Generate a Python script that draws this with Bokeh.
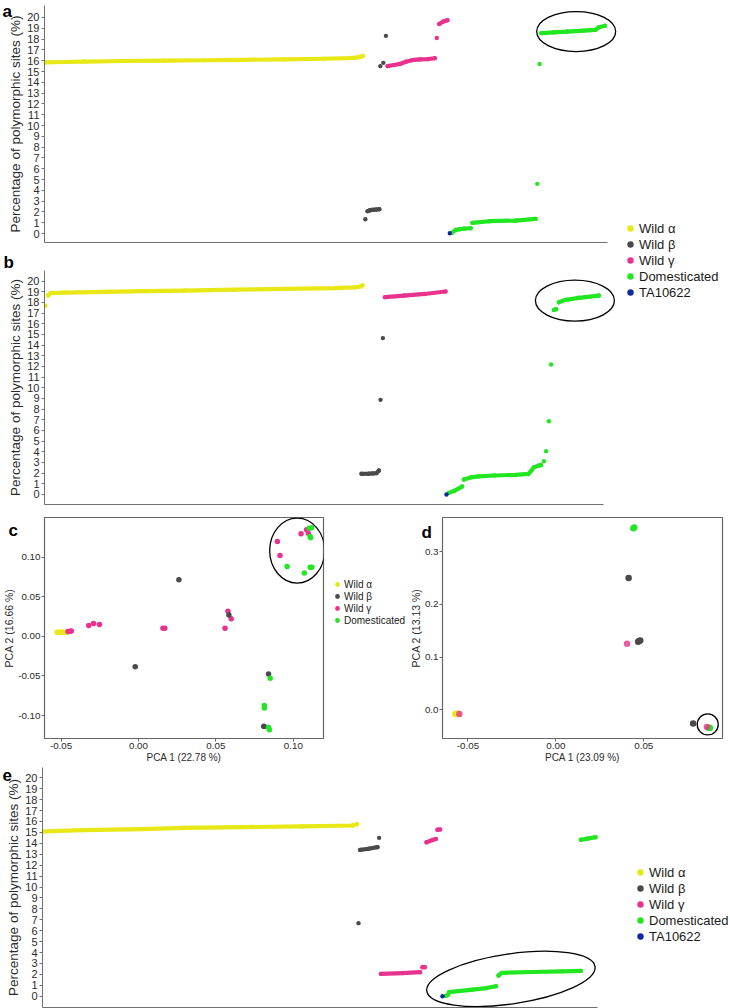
import numpy as np
from bokeh.plotting import figure
from bokeh.layouts import column, row
from bokeh.models import FixedTicker, Legend, LegendItem, NumeralTickFormatter, Range1d
from bokeh.core.properties import value
from bokeh.embed import file_html
from bokeh.resources import INLINE

nan = float("nan")
FONT = "Liberation Sans"
TXT = "#2b2b2b"
AXC = "#707070"

GROUPS = ["Wild α", "Wild β", "Wild γ", "Domesticated", "TA10622"]
COLORS = ["#E8E817", "#4A4A4A", "#E8338E", "#22E622", "#0B2A9E"]

RANK_TICKS = [0, 1, 2, 3, 4, 5, 6, 7, 8, 9, 10, 11, 12, 13, 14, 15, 16, 17, 18, 19, 20]
RANK_YLABEL = "Percentage of polymorphic sites (%)"

# ---------------- panel a (sample rank, % polymorphic sites) ----------------
A_ALPHA_X = [0.5, 10, 20, 40, 60, 80, 100, 120, 140, 152, 156, 158, 159.5]
A_ALPHA_Y = [15.85, 15.88, 15.92, 15.97, 16.0, 16.04, 16.08, 16.12, 16.18, 16.24, 16.28, 16.35, 16.45]
A_BETA_X = [160.7, nan, 161.8, 163, 164.5, 166, 167.7, nan, 168.2, nan, 169.7, nan, 171]
A_BETA_Y = [1.32, nan, 2.07, 2.15, 2.2, 2.22, 2.25, nan, 15.5, nan, 15.8, nan, 18.3]
A_GAMMA_X = [171.8, 175, 178, 181, 184, 188, 192, 195.5, nan, 196.5, nan, 197.7, 199.5, 201.8]
A_GAMMA_Y = [15.5, 15.6, 15.7, 15.9, 16.05, 16.12, 16.15, 16.23, nan, 18.1, nan, 19.4, 19.6, 19.75]
A_DOM_X = [204, 206, 208, 210, 213.5, nan, 214.3, 222.7, 236, 246, nan, 246.8, nan, 248, nan,
           248.8, 255, 262, 270, 276, 277.7, 280.7]
A_DOM_Y = [0.06, 0.34, 0.4, 0.45, 0.49, nan, 0.99, 1.14, 1.2, 1.36, nan, 4.6, nan, 15.7, nan,
           18.55, 18.62, 18.7, 18.78, 18.86, 19.1, 19.23]
A_TA_X = [203]
A_TA_Y = [0.03]
A_ELLIPSE = [266.3, 18.7]
A_AXIS_END = 282

# ---------------- panel b ----------------
B_ALPHA_X = [0.5, nan, 1.8, 3, 10, 30, 50, 70, 95, 120, 145, 155, 157.5, 159]
B_ALPHA_Y = [17.7, nan, 18.66, 18.88, 18.93, 19.0, 19.06, 19.12, 19.2, 19.28, 19.35, 19.42, 19.48, 19.6]
B_BETA_X = [158.5, 162, 164, 166, 167.2, nan, 168, nan, 169.2]
B_BETA_Y = [1.94, 1.95, 1.97, 2.0, 2.25, nan, 8.87, nan, 14.66]
B_GAMMA_X = [170.2, 180, 190, 200.5]
B_GAMMA_Y = [18.5, 18.65, 18.8, 19.03]
B_DOM_X = [202.2, 205, 207, 208.8, nan, 209.7, 213, 217, 225, 235.5, 242, 243.2, 244.7, 247.2, 248.3, nan,
           249.7, nan, 250.8, nan, 252.2, nan, 253.3, nan, 254.7, 255.8, nan, 257.2, 260.5, 267.2, 277.2]
B_DOM_Y = [0.15, 0.35, 0.55, 0.75, nan, 1.4, 1.6, 1.69, 1.78, 1.84, 1.94, 2.19, 2.56, 2.72, 2.75, nan,
           3.12, nan, 4.06, nan, 6.87, nan, 12.19, nan, 17.3, 17.37, nan, 18.03, 18.25, 18.44, 18.65]
B_TA_X = [201]
B_TA_Y = [0.0]
B_ELLIPSE = [265.2, 18.18]
B_AXIS_END = 279.5

# ---------------- panel e ----------------
E_ALPHA_X = [0.5, 5, 20, 50, 70.8, 100, 130, 155, 157.2]
E_ALPHA_Y = [15.08, 15.12, 15.2, 15.3, 15.42, 15.48, 15.55, 15.63, 15.75]
E_BETA_X = [158, nan, 158.8, 163, 167.5, nan, 168.3]
E_BETA_Y = [6.69, nan, 13.4, 13.5, 13.65, nan, 14.5]
E_GAMMA_X = [169.2, 180, 188.8, nan, 190, 191.2, nan, 192, 195, 196.7, nan, 197.5, 198.8]
E_GAMMA_Y = [2.05, 2.12, 2.2, nan, 2.66, 2.66, nan, 14.1, 14.3, 14.4, nan, 15.24, 15.27]
E_DOM_X = [201.7, 202.8, nan, 203.3, 215, 222, 226.7, nan, 228, 229.7, 245, 260, 269.2, nan, 269.2, 273, 276.7]
E_DOM_Y = [0.04, 0.13, nan, 0.37, 0.61, 0.75, 0.92, nan, 1.9, 2.14, 2.22, 2.28, 2.32, nan, 14.32, 14.45, 14.56]
E_TA_X = [200]
E_TA_Y = [0.0]
E_ELLIPSE = [234.2, 1.59]
E_AXIS_END = 277.5

# ---------------- panel c (PCA) ----------------
C_ALPHA_X = [-0.0525, -0.0518, -0.0511, -0.0504, -0.0497, -0.0490, -0.0483, -0.0476, -0.0469, -0.0463]
C_ALPHA_Y = [0.0050, 0.0048, 0.0052, 0.0050, 0.0049, 0.0051, 0.0050, 0.0048, 0.0052, 0.0050]
C_BETA_X = [-0.0021, 0.0261, 0.0584, 0.0840, 0.0809, 0.0812]
C_BETA_Y = [-0.0383, 0.0712, 0.0270, -0.0475, -0.1136, -0.1140]
C_GAMMA_X = [-0.0455, -0.0440, -0.0434, -0.0321, -0.0290, -0.0252, 0.0158, 0.0170, 0.0559, 0.0578,
             0.0599, 0.0897, 0.0914, 0.1050, 0.1086, 0.1097]
C_GAMMA_Y = [0.0060, 0.0065, 0.0068, 0.0135, 0.0160, 0.0148, 0.0101, 0.0101, 0.0101, 0.0316,
             0.0220, 0.1196, 0.1019, 0.1293, 0.1343, 0.1300]
C_DOM_X = [0.0851, 0.0813, 0.0813, 0.0840, 0.0846, 0.0960, 0.1103, 0.1118, 0.1109, 0.1112, 0.1071, 0.1109, 0.1120]
C_DOM_Y = [-0.0530, -0.0875, -0.0904, -0.1150, -0.1178, 0.0880, 0.1364, 0.1369, 0.1259, 0.1245, 0.0800, 0.0871, 0.0871]
C_XTICKS = [-0.05, 0.0, 0.05, 0.10]
C_YTICKS = [-0.10, -0.05, 0.0, 0.05, 0.10]
C_ELLIPSE = [0.1025, 0.1082]

# ---------------- panel d (PCA) ----------------
D_ALPHA_X = [-0.0571, -0.0567, -0.0563, -0.0559]
D_ALPHA_Y = [-0.0080, -0.0083, -0.0078, -0.0081]
D_BETA_X = [0.0414, 0.0468, 0.0474, 0.0480, 0.0781]
D_BETA_Y = [0.2503, 0.1292, 0.1305, 0.1317, -0.0261]
D_GAMMA_X = [-0.0549, 0.0405, 0.0859]
D_GAMMA_Y = [-0.0080, 0.1255, -0.0328]
D_DOM_X = [0.0441, 0.0446, 0.0870, 0.0876]
D_DOM_Y = [0.3445, 0.3460, -0.0340, -0.0346]
D_XTICKS = [-0.05, 0.0, 0.05]
D_YTICKS = [0.0, 0.1, 0.2, 0.3]
D_ELLIPSE = [0.0864, -0.0279]

LETTER_H = 19  # approximate text-box height of one line of the 17px bold panel letters


def arr(v):
    return np.array(v, dtype=float)


def add_letter(p, letter, top_border, offset, baseline):
    # panel letter drawn as the plot title; a negative standoff keeps the title
    # panel no taller than the top border (so the frame stays put), and an
    # empty first line lets the letter sit lower, beside the frame
    p.title.text_font = FONT
    p.title.text_font_size = "17px"
    p.title.text_font_style = "bold"
    p.title.text_color = "black"
    p.title.align = "left"
    p.title.offset = offset
    s = max(top_border - 3, 1)
    sy = baseline + 3.6
    h_adj = 2 * (sy - top_border) + s - 2
    h_top = 2 * (sy - 1) - s
    h = 0.5 * (h_adj + h_top)
    lh = h / LETTER_H - 1
    if lh < 0.5:
        p.title.text = letter
        p.title.standoff = s - 2 - LETTER_H
    else:
        p.title.text = "\n" + letter
        p.title.text_line_height = lh
        p.title.standoff = s - 2 - h


def rank_panel(w, h, bl, br, bt, bb, xr, axis_end, yr, series, ell, ell_size, ell_angle, letter, loff, lbase):
    p = figure(width=w, height=h, toolbar_location=None, output_backend="svg",
               x_range=Range1d(*xr), y_range=Range1d(*yr),
               min_border_left=bl, min_border_right=br, min_border_top=bt, min_border_bottom=bb)
    p.outline_line_color = None
    p.xgrid.visible = False
    p.ygrid.visible = False
    ya = p.yaxis[0]
    ya.ticker = FixedTicker(ticks=RANK_TICKS)
    ya.axis_label = RANK_YLABEL
    ya.axis_label_text_font = FONT
    ya.axis_label_text_font_size = "13.5px"
    ya.axis_label_text_font_style = "normal"
    ya.axis_label_text_color = TXT
    ya.axis_label_standoff = 1
    ya.major_label_text_font = FONT
    ya.major_label_text_font_size = "11px"
    ya.major_label_text_color = TXT
    ya.major_label_standoff = 2
    ya.major_tick_out = 3
    ya.major_tick_in = 0
    ya.minor_tick_line_color = None
    ya.axis_line_color = AXC
    ya.major_tick_line_color = AXC
    xa = p.xaxis[0]
    xa.ticker = FixedTicker(ticks=[])
    xa.bounds = (xr[0], axis_end)
    xa.major_label_text_font_size = "0px"
    xa.major_tick_line_color = None
    xa.minor_tick_line_color = None
    xa.major_tick_out = 0
    xa.major_label_standoff = 0
    xa.axis_line_color = AXC
    for (xs, ys), c in zip(series, COLORS):
        p.line(arr(xs), arr(ys), line_width=4.2, line_color=c, line_cap="round", line_join="round")
        p.scatter(arr(xs), arr(ys), size=4.4, fill_color=c, line_color=None)
    p.ellipse(x=[ell[0]], y=[ell[1]], width=ell_size[0], height=ell_size[1], angle=ell_angle,
              width_units="screen", height_units="screen",
              fill_color=None, line_color="black", line_width=1.3)
    add_letter(p, letter, bt, loff, lbase)
    return p


def pca_panel(w, h, bl, br, bt, bb, xr, yr, xt, yt, xf, yf, xlab, ylab, pts, order, alphas,
              size, ell, ell_size, letter, loff, lbase):
    p = figure(width=w, height=h, toolbar_location=None, output_backend="svg",
               x_range=Range1d(*xr), y_range=Range1d(*yr),
               min_border_left=bl, min_border_right=br, min_border_top=bt, min_border_bottom=bb)
    p.outline_line_color = "#666666"
    p.outline_line_width = 1.2
    p.xgrid.visible = False
    p.ygrid.visible = False
    for ax, ticks, fmt, lab, fs in ((p.xaxis[0], xt, xf, xlab, "10px"), (p.yaxis[0], yt, yf, ylab, "10.5px")):
        ax.ticker = FixedTicker(ticks=ticks)
        ax.formatter = NumeralTickFormatter(format=fmt)
        ax.axis_label = lab
        ax.axis_label_text_font = FONT
        ax.axis_label_text_font_size = fs
        ax.axis_label_text_font_style = "normal"
        ax.axis_label_text_color = TXT
        ax.axis_label_standoff = 0
        ax.major_label_text_font = FONT
        ax.major_label_text_font_size = "9.8px"
        ax.major_label_text_color = TXT
        ax.major_label_standoff = 1
        ax.major_tick_out = 3
        ax.major_tick_in = 0
        ax.minor_tick_line_color = None
        ax.axis_line_color = None
        ax.major_tick_line_color = "#666666"
    for gi in order:
        xs, ys = pts[gi]
        p.scatter(arr(xs), arr(ys), size=size, fill_color=COLORS[gi], line_color=None,
                  fill_alpha=alphas[gi])
    p.ellipse(x=[ell[0]], y=[ell[1]], width=ell_size[0], height=ell_size[1],
              width_units="screen", height_units="screen",
              fill_color=None, line_color="black", line_width=1.3)
    add_letter(p, letter, bt, loff, lbase)
    return p


def legend_fig(w, h, n, loc, fs, glyph, row_h, standoff):
    # the legend lives in its own narrow figure; the key renderers hold one
    # off-range point each so that the legend can draw their markers
    p = figure(width=w, height=h, toolbar_location=None, output_backend="svg",
               x_range=Range1d(0, 1), y_range=Range1d(0, 1), min_border=0,
               x_axis_location=None, y_axis_location=None)
    p.outline_line_color = None
    p.grid.visible = False
    items = []
    for name, c in zip(GROUPS[:n], COLORS[:n]):
        r = p.scatter(x=[-5], y=[-5], fill_color=c, line_color=None, size=6)
        items.append(LegendItem(label=value(name), renderers=[r]))
    lg = Legend(items=items, location=loc, orientation="vertical",
                padding=0, margin=0, spacing=0,
                glyph_width=glyph, glyph_height=glyph, label_height=row_h, label_standoff=standoff,
                label_text_font=FONT, label_text_font_size=fs, label_text_color="#1a1a1a",
                border_line_color=None, background_fill_alpha=0)
    p.add_layout(lg)
    return p


# panels a and b get a frame that reaches past the axis end so the circled
# group's ellipse is not cut; the x axis line stops at the data end (bounds)
fa = rank_panel(620, 248, 43, 2, 5, 6, (0, 287.5), A_AXIS_END, (-0.83, 21.11),
                [(A_ALPHA_X, A_ALPHA_Y), (A_BETA_X, A_BETA_Y), (A_GAMMA_X, A_GAMMA_Y),
                 (A_DOM_X, A_DOM_Y), (A_TA_X, A_TA_Y)],
                A_ELLIPSE, (79, 40), 0.0, "a", -42, 15.5)
fb = rank_panel(620, 258, 44, 2, 22, 2, (0, 287), B_AXIS_END, (-0.94, 21.0),
                [(B_ALPHA_X, B_ALPHA_Y), (B_BETA_X, B_BETA_Y), (B_GAMMA_X, B_GAMMA_Y),
                 (B_DOM_X, B_DOM_Y), (B_TA_X, B_TA_Y)],
                B_ELLIPSE, (79, 41), 0.0, "b", -41, 18.7)
fe = rank_panel(610, 243, 42, 13, 2, 1, (0, 277.5), E_AXIS_END, (-1.03, 20.94),
                [(E_ALPHA_X, E_ALPHA_Y), (E_BETA_X, E_BETA_Y), (E_GAMMA_X, E_GAMMA_Y),
                 (E_DOM_X, E_DOM_Y), (E_TA_X, E_TA_Y)],
                E_ELLIPSE, (170, 50), 0.145, "e", -40, 15.5)

fc = pca_panel(330, 259, 37, 7, 11, 27, (-0.0607, 0.1195), (-0.129, 0.1499),
               C_XTICKS, C_YTICKS, "0.00", "0.00", "PCA 1 (22.78 %)", "PCA 2 (16.66 %)",
               [(C_ALPHA_X, C_ALPHA_Y), (C_BETA_X, C_BETA_Y), (C_GAMMA_X, C_GAMMA_Y), (C_DOM_X, C_DOM_Y)],
               [0, 2, 1, 3], [1, 1, 1, 1], 5.5, C_ELLIPSE, (55, 65), "c", -36, 28.3)
fd = pca_panel(324, 259, 30, 8, 10, 25, (-0.0645, 0.0948), (-0.0546, 0.365),
               D_XTICKS, D_YTICKS, "0.00", "0.0", "PCA 1 (23.09 %)", "PCA 2 (13.13 %)",
               [(D_ALPHA_X, D_ALPHA_Y), (D_BETA_X, D_BETA_Y), (D_GAMMA_X, D_GAMMA_Y), (D_DOM_X, D_DOM_Y)],
               [0, 1, 3, 2], [1, 1, 0.8, 1], 6.5, D_ELLIPSE, (21, 21), "d", -21, 29.0)

leg_ab = legend_fig(110, 506, 5, (2, 206), "13px", 16, 16, 1)
leg_c = legend_fig(76, 259, 4, (1, 112), "10px", 12, 12, 1)
leg_e = legend_fig(120, 243, 5, (22, 63), "13px", 16, 16, 1)

layout = column(
    row(column(fa, fb), leg_ab),
    row(fc, leg_c, fd),
    row(fe, leg_e),
)

open("out.html", "w").write(file_html(layout, INLINE))
